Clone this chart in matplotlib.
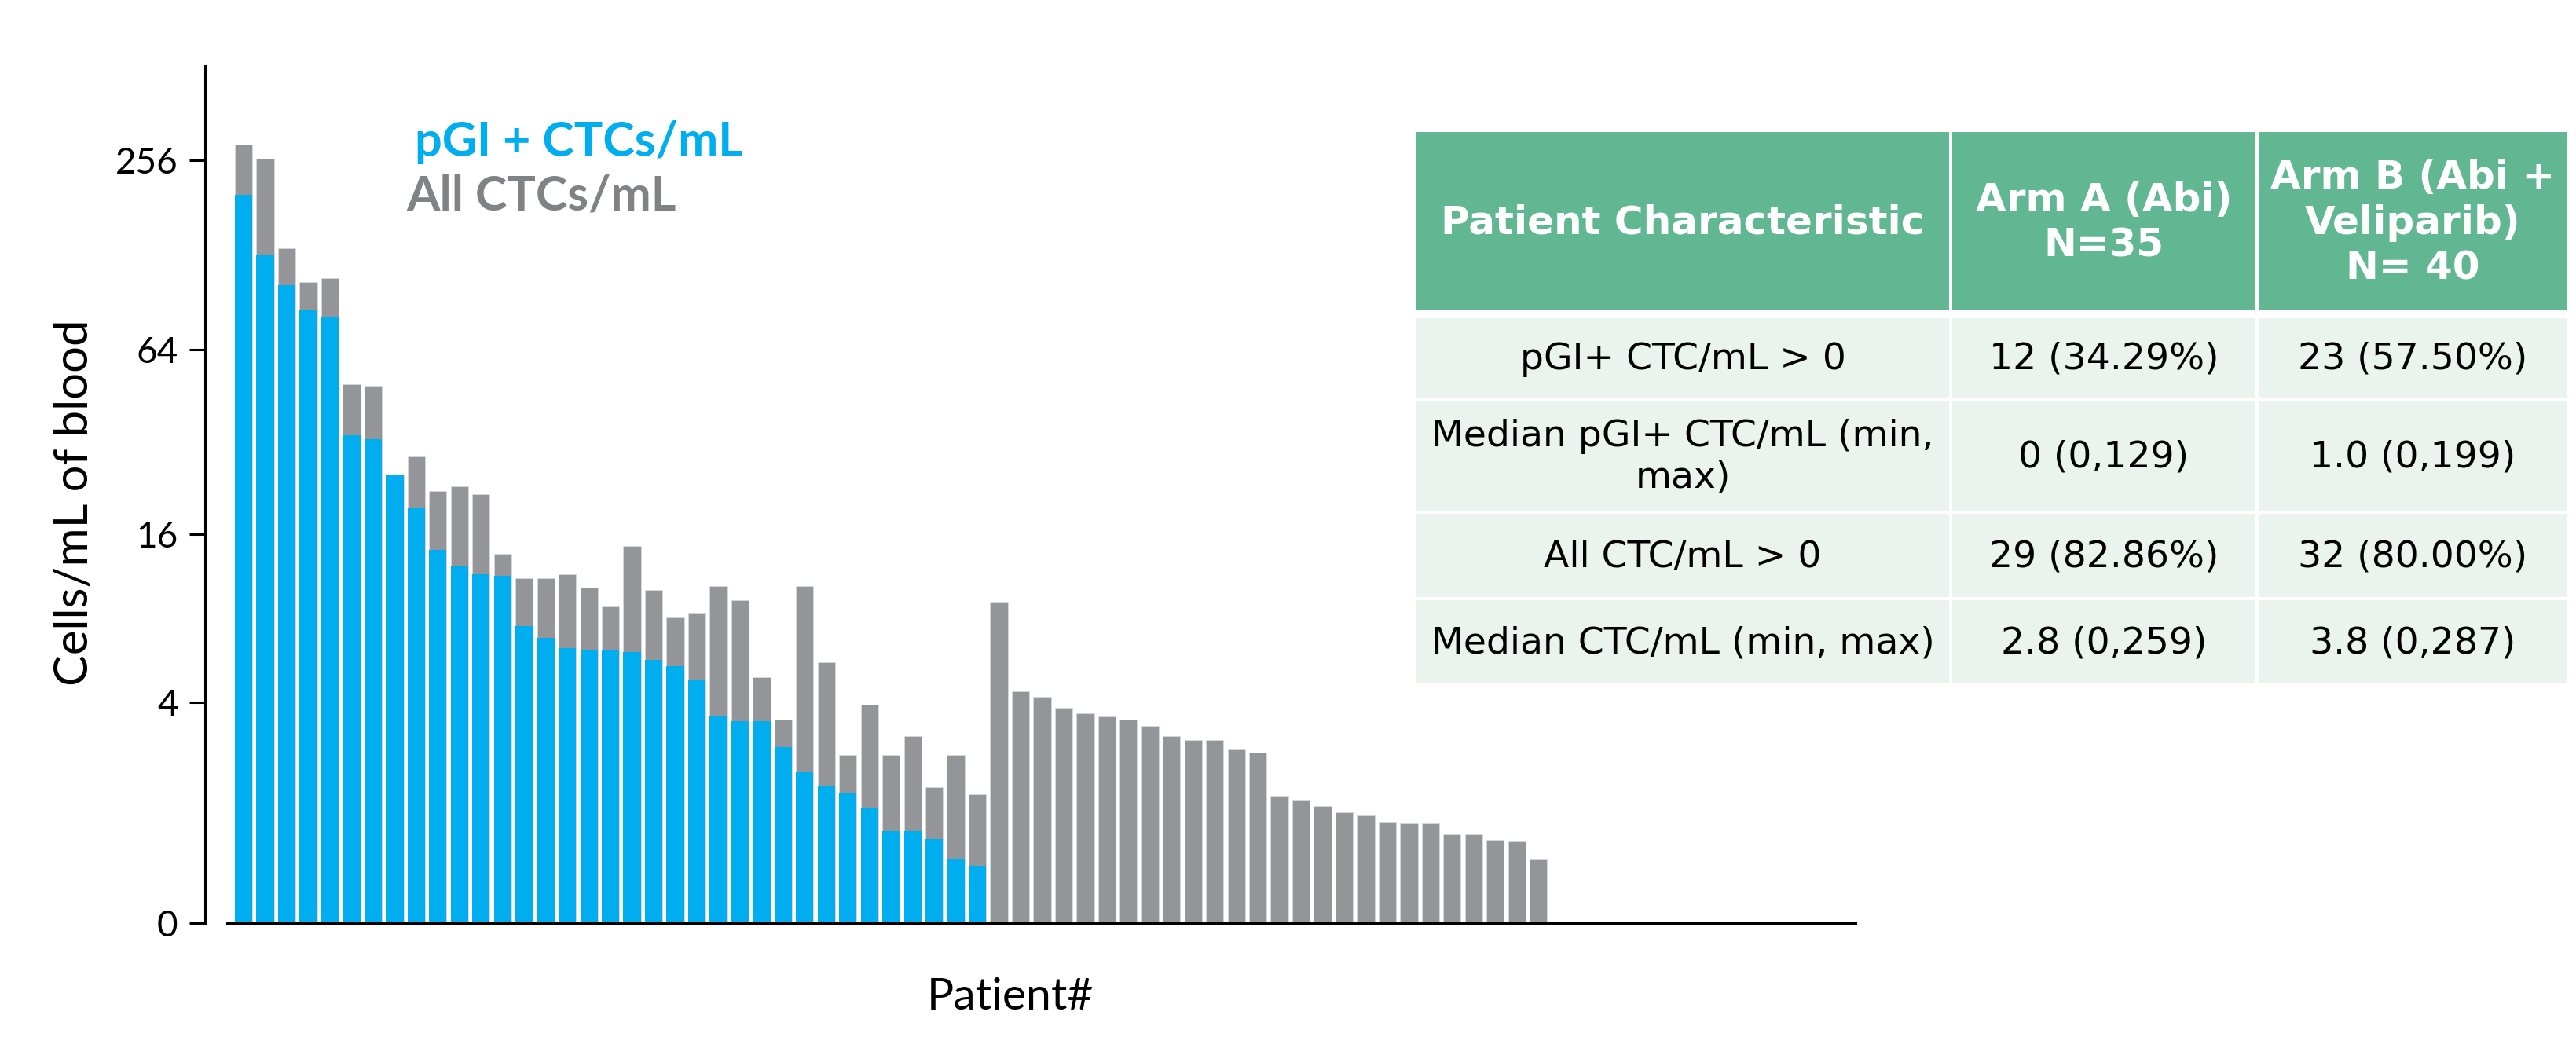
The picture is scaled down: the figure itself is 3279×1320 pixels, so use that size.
import numpy as np
import matplotlib.pyplot as plt
from matplotlib.patches import Rectangle

# all CTCs/mL per patient (sorted as plotted) and the pGI+ share
all_ctc = [287, 259, 135, 105, 108, 49.5, 48.9, 25.0, 28.9, 22.2,
           23.1, 21.7, 13.7, 11.3, 11.3, 11.7, 10.5, 9.05, 14.6, 10.3,
           8.24, 8.6, 10.6, 9.5, 5.0, 3.4, 10.6, 5.7, 2.4, 3.9,
           2.4, 2.9, 1.7, 2.4, 1.56, 9.4, 4.4, 4.2, 3.8, 3.6,
           3.5, 3.4, 3.2, 2.9, 2.8, 2.8, 2.55, 2.47, 1.53, 1.46,
           1.35, 1.24, 1.19, 1.09, 1.07, 1.07, 0.91, 0.91, 0.84, 0.82,
           0.59]
pgi_ctc = [199, 129, 102.6, 86.1, 81.1, 33.8, 32.9, 25.0, 19.6, 14.1,
           12.4, 11.7, 11.5, 7.7, 7.0, 6.4, 6.3, 6.3, 6.2, 5.8,
           5.5, 4.9, 3.5, 3.35, 3.35, 2.6, 2.0, 1.72, 1.59, 1.31,
           0.96, 0.96, 0.85, 0.60, 0.52]
n_patients = 75

y_ticks = [0, 4, 16, 64, 256]
y_max = 511

table_header = ["Patient Characteristic", "Arm A (Abi)\nN=35",
                "Arm B (Abi +\nVeliparib)\nN= 40"]
table_rows = [
    ["pGI+ CTC/mL > 0", "12 (34.29%)", "23 (57.50%)"],
    ["Median pGI+ CTC/mL (min,\nmax)", "0 (0,129)", "1.0 (0,199)"],
    ["All CTC/mL > 0", "29 (82.86%)", "32 (80.00%)"],
    ["Median CTC/mL (min, max)", "2.8 (0,259)", "3.8 (0,287)"],
]

BLUE = "#00AEEF"
GRAY = "#939598"
LEGEND_GRAY = "#808285"
HEAD_GREEN = "#62B793"
ROW_GREEN = "#EAF3EE"

W, H = 3280, 1320
fig = plt.figure(figsize=(W / 100, H / 100), dpi=100)

ax_left, ax_right, ax_bottom, ax_top = 289, 2362, 1175.4, 83.7
ax = fig.add_axes([ax_left / W, 1 - ax_bottom / H,
                   (ax_right - ax_left) / W, (ax_bottom - ax_top) / H])


def fwd(v):
    return np.log2(np.maximum(v, 0) + 1)


def inv(u):
    return 2.0 ** u - 1


ax.set_yscale("function", functions=(fwd, inv))

x = np.arange(len(all_ctc))
ax.bar(x, all_ctc, width=0.81, color=GRAY, edgecolor="#d8d9da", linewidth=0.6)
ax.bar(np.arange(len(pgi_ctc)), pgi_ctc, width=0.81, color=BLUE, linewidth=0)

ax.set_xlim(-0.77, n_patients - 0.3)
ax.set_ylim(0, y_max)
ax.set_yticks(y_ticks)
ax.set_yticklabels([str(t) for t in y_ticks])
ax.set_xticks([])

for s in ["top", "right"]:
    ax.spines[s].set_visible(False)
ax.spines["left"].set_position(("outward", 20))
for s in ["left", "bottom"]:
    ax.spines[s].set_linewidth(2.2)

ax.tick_params(axis="y", length=14.4, width=2.2, pad=10.5,
               labelsize=33, labelfontfamily="Lato")

ax.set_ylabel("Cells/mL of blood", fontsize=43, family="Lato")
ax.yaxis.set_label_coords((95 - ax_left) / (ax_right - ax_left),
                          (ax_bottom - 640) / (ax_bottom - ax_top))
ax.yaxis.label.set_va("center")

ax.set_xlabel("Patient#", fontsize=41, family="Lato")
ax.xaxis.set_label_coords((1286 - ax_left) / (ax_right - ax_left),
                          (ax_bottom - 1285) / (ax_bottom - ax_top))
ax.xaxis.label.set_va("baseline")

# legend as coloured text
fig.text(528 / W, 1 - 199 / H, "pGI + CTCs/mL", color=BLUE, fontsize=44,
         family="Lato", weight="bold", va="baseline", ha="left")
fig.text(517 / W, 1 - 267 / H, "All CTCs/mL", color=LEGEND_GRAY, fontsize=44,
         family="Lato", weight="bold", va="baseline", ha="left")

# table drawn on a pixel-space overlay
tab = fig.add_axes([0, 0, 1, 1])
tab.set_xlim(0, W)
tab.set_ylim(H, 0)
tab.axis("off")

col_x = [1801, 2483, 2873, 3270]
head_y = (168, 395)
body_y = [403, 508, 652, 762, 871]
gap = 2

for j in range(3):
    x0, x1 = col_x[j] + gap, col_x[j + 1] - gap
    tab.add_patch(Rectangle((x0, head_y[0]), x1 - x0, head_y[1] - head_y[0],
                            facecolor=HEAD_GREEN, edgecolor="none"))
    tab.text((x0 + x1) / 2, (head_y[0] + head_y[1]) / 2 + 2, table_header[j],
             color="white", fontsize=36, weight="bold", family="DejaVu Sans",
             ha="center", va="center", linespacing=1.25)
    for i, row in enumerate(table_rows):
        y0, y1 = body_y[i] + gap, body_y[i + 1] - gap
        tab.add_patch(Rectangle((x0, y0), x1 - x0, y1 - y0,
                                facecolor=ROW_GREEN, edgecolor="none"))
        tab.text((x0 + x1) / 2, (y0 + y1) / 2 + 2, row[j], color="black",
                 fontsize=34, family="DejaVu Sans", ha="center", va="center",
                 linespacing=1.2)

fig.savefig("out.png", dpi=100)
